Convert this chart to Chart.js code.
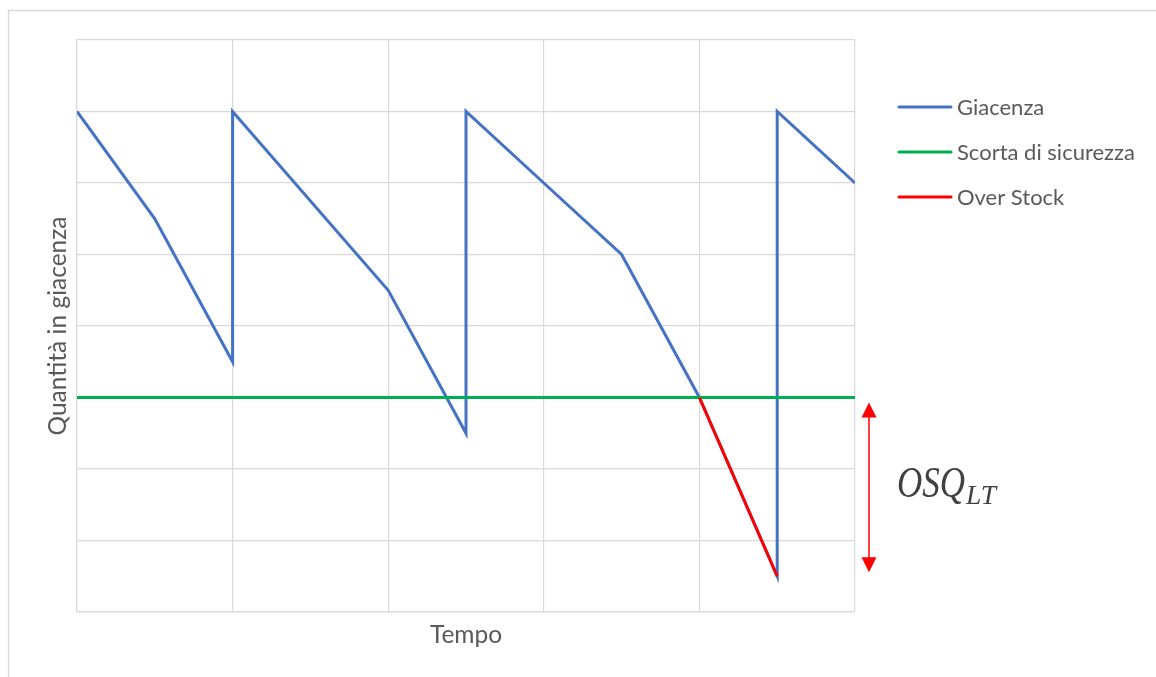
<!DOCTYPE html>
<html><head><meta charset="utf-8">
<script src="https://cdn.jsdelivr.net/npm/chart.js@4.4.0/dist/chart.umd.min.js"></script>
<style>html,body{margin:0;padding:0;background:#fff;overflow:hidden}canvas{display:block}</style>
</head><body>
<canvas id="c" width="1156" height="677"></canvas>
<script>
// ---- data ----
const giacenzaX = [0, 1, 2, 2, 4, 5, 5, 6, 7, 8, 9, 9, 10];
const giacenzaY = [7, 5.5, 3.5, 7, 4.5, 2.5, 7, 6, 5, 3, 0.5, 7, 6];
const scortaX = [0, 10];
const scortaY = [3, 3];
const overStockX = [8, 9];
const overStockY = [3, 0.5];
const seriesLabels = ['Giacenza', 'Scorta di sicurezza', 'Over Stock'];
const xTitle = 'Tempo';
const yTitle = 'Quantità in giacenza';
const annotationMain = 'OSQ';
const annotationSub = 'LT';

const toPts = (xs, ys) => xs.map((x, i) => ({ x: x, y: ys[i] }));

const FONT = 'Lato, "Open Sans", sans-serif';
const TEXT = '#595959';
const GRID = '#d9d9d9';

const decor = {
  id: 'decor',
  beforeDraw(chart) {
    const ctx = chart.ctx;
    ctx.save();
    ctx.fillStyle = '#fff';
    ctx.fillRect(0, 0, chart.width, chart.height);
    ctx.strokeStyle = GRID;
    ctx.lineWidth = 1.3;
    ctx.beginPath();
    ctx.moveTo(8.5, chart.height + 2);
    ctx.lineTo(8.5, 10.5);
    ctx.lineTo(chart.width + 2, 10.5);
    ctx.stroke();
    ctx.restore();
  },
  afterDraw(chart) {
    const ctx = chart.ctx;
    const a = chart.chartArea;
    const ys = chart.scales.y;
    ctx.save();
    // axis titles
    ctx.fillStyle = TEXT;
    ctx.font = '24.5px ' + FONT;
    ctx.textAlign = 'center';
    ctx.textBaseline = 'middle';
    ctx.fillText(xTitle, (a.left + a.right) / 2, 635);
    ctx.save();
    ctx.translate(58, (a.top + a.bottom) / 2);
    ctx.rotate(-Math.PI / 2);
    ctx.fillText(yTitle, 0, 0);
    ctx.restore();
    // legend
    const ds = chart.data.datasets;
    ctx.font = '22px ' + FONT;
    ctx.textAlign = 'left';
    ds.forEach((d, i) => {
      const y = 107 + i * 45;
      ctx.strokeStyle = d.borderColor;
      ctx.lineWidth = 3;
      ctx.lineCap = 'round';
      ctx.beginPath();
      ctx.moveTo(899, y);
      ctx.lineTo(951, y);
      ctx.stroke();
      ctx.fillStyle = TEXT;
      ctx.fillText(d.label, 957, y + 1);
    });
    // arrow
    const ax = 869;
    const yTop = ys.getPixelForValue(scortaY[0]) + 5;
    const yBot = ys.getPixelForValue(overStockY[overStockY.length - 1]) - 4;
    ctx.strokeStyle = '#ff2a2a';
    ctx.fillStyle = '#ff0000';
    ctx.lineWidth = 1.8;
    ctx.lineCap = 'butt';
    ctx.beginPath();
    ctx.moveTo(ax, yTop + 10);
    ctx.lineTo(ax, yBot - 10);
    ctx.stroke();
    ctx.beginPath();
    ctx.moveTo(ax, yTop); ctx.lineTo(ax - 7.5, yTop + 15); ctx.lineTo(ax + 7.5, yTop + 15); ctx.closePath();
    ctx.fill();
    ctx.beginPath();
    ctx.moveTo(ax, yBot); ctx.lineTo(ax - 7.5, yBot - 15); ctx.lineTo(ax + 7.5, yBot - 15); ctx.closePath();
    ctx.fill();
    // OSQ_LT
    ctx.fillStyle = '#404040';
    ctx.textBaseline = 'alphabetic';
    ctx.font = 'italic 44px "Liberation Serif", serif';
    const wMain = ctx.measureText(annotationMain).width;
    ctx.save();
    ctx.translate(897, 497);
    ctx.scale(68 / wMain, 1);
    ctx.fillText(annotationMain, 0, 0);
    ctx.restore();
    ctx.font = 'italic 27px "Liberation Serif", serif';
    const wSub = ctx.measureText(annotationSub).width;
    ctx.save();
    ctx.translate(966, 504);
    ctx.scale(30 / wSub, 1);
    ctx.fillText(annotationSub, 0, 0);
    ctx.restore();
    ctx.restore();
  }
};

new Chart(document.getElementById('c'), {
  type: 'line',
  data: {
    datasets: [
      { label: seriesLabels[0], data: toPts(giacenzaX, giacenzaY), borderColor: '#4472C4', borderWidth: 3, pointRadius: 0, tension: 0, order: 3 },
      { label: seriesLabels[1], data: toPts(scortaX, scortaY), borderColor: '#00B050', borderWidth: 3, pointRadius: 0, tension: 0, order: 2 },
      { label: seriesLabels[2], data: toPts(overStockX, overStockY), borderColor: '#FF0000', borderWidth: 3, pointRadius: 0, tension: 0, order: 1 }
    ]
  },
  options: {
    responsive: false,
    animation: false,
    events: [],
    layout: { padding: { left: 77, top: 40, right: 301, bottom: 65 } },
    plugins: { legend: { display: false }, tooltip: { enabled: false }, title: { display: false } },
    scales: {
      x: {
        type: 'linear', min: 0, max: 10,
        ticks: { display: false, stepSize: 2 },
        grid: { color: GRID, lineWidth: 1.2, drawTicks: false },
        border: { display: true, color: GRID, width: 1.2 }
      },
      y: {
        type: 'linear', min: 0, max: 8,
        ticks: { display: false, stepSize: 1 },
        grid: { color: GRID, lineWidth: 1.2, drawTicks: false },
        border: { display: true, color: GRID, width: 1.2 }
      }
    }
  },
  plugins: [decor]
});
</script>
</body></html>
